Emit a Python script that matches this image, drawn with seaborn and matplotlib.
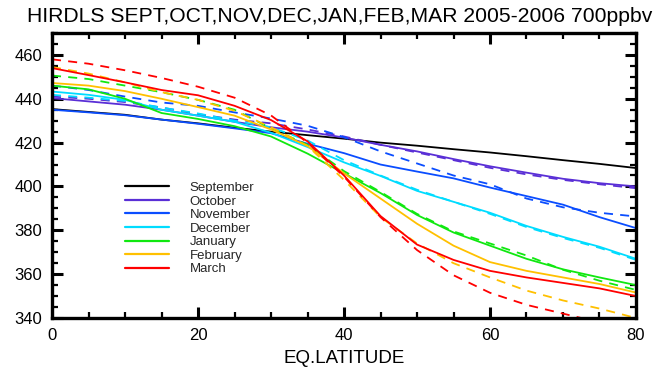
import matplotlib
matplotlib.use("Agg")
import matplotlib.pyplot as plt
import pandas as pd
import seaborn as sns
from matplotlib.ticker import MultipleLocator
from matplotlib.lines import Line2D

# Equivalent latitude grid (degrees)
lat = [0, 5, 10, 15, 20, 25, 30, 35, 40, 45, 50, 55, 60, 65, 70, 75, 80]

months = ["September", "October", "November", "December", "January", "February", "March"]
colors = ["#000000", "#5a2fd6", "#0a4dff", "#00dcff", "#10e810", "#ffc000", "#ff0000"]

# Solid curves
sep_solid = [435.3, 434.0, 432.7, 430.5, 428.8, 426.8, 425.0, 423.4, 421.8, 420.0, 418.6, 417.0, 415.5, 413.8, 412.0, 410.3, 408.4]
oct_solid = [440.3, 438.8, 437.3, 435.0, 432.3, 429.5, 427.0, 425.0, 422.3, 419.0, 416.0, 412.5, 409.2, 406.3, 403.5, 401.5, 400.0]
nov_solid = [435.0, 433.8, 432.5, 430.5, 428.6, 426.5, 424.3, 419.5, 415.2, 410.0, 406.8, 403.7, 399.5, 395.6, 391.7, 386.0, 381.0]
dec_solid = [443.3, 441.8, 439.5, 435.0, 432.3, 429.5, 424.5, 418.0, 411.0, 404.8, 398.0, 393.0, 388.0, 382.0, 377.0, 372.5, 367.0]
jan_solid = [446.0, 444.3, 440.0, 433.5, 430.8, 427.5, 422.8, 415.0, 406.0, 397.0, 387.0, 379.0, 373.0, 367.0, 362.2, 358.5, 355.0]
feb_solid = [447.2, 446.0, 443.5, 440.0, 436.2, 432.3, 426.0, 418.5, 406.0, 394.5, 383.0, 373.0, 365.5, 361.5, 358.5, 355.5, 351.6]
mar_solid = [454.0, 450.8, 447.5, 444.0, 441.6, 436.8, 430.3, 420.6, 405.0, 386.5, 373.5, 366.5, 361.5, 358.5, 356.0, 353.5, 350.0]

# Dashed curves
oct_dash = [441.0, 440.0, 438.5, 436.0, 433.0, 430.5, 428.8, 426.0, 422.8, 419.0, 415.5, 412.0, 408.5, 405.5, 403.0, 401.0, 399.2]
nov_dash = [446.0, 444.0, 441.0, 438.3, 436.8, 433.8, 431.0, 427.7, 422.5, 416.0, 410.5, 405.0, 401.0, 394.5, 390.5, 388.0, 386.3]
dec_dash = [441.8, 440.5, 439.0, 436.0, 433.3, 430.0, 427.0, 421.0, 412.0, 405.0, 398.5, 393.0, 387.5, 381.5, 376.5, 372.0, 366.5]
jan_dash = [450.6, 449.0, 446.0, 443.0, 439.5, 435.0, 426.5, 419.0, 407.0, 397.5, 387.5, 379.5, 374.0, 368.5, 362.0, 357.0, 352.8]
feb_dash = [454.5, 451.5, 447.5, 443.0, 439.5, 434.5, 427.0, 418.5, 403.0, 386.0, 374.0, 365.0, 358.5, 352.5, 348.0, 344.3, 340.0]
mar_dash = [458.0, 456.0, 453.0, 449.5, 445.5, 440.5, 432.4, 420.0, 404.5, 386.0, 371.0, 359.5, 351.5, 346.0, 342.0, 338.0, 334.0]

solid = [sep_solid, oct_solid, nov_solid, dec_solid, jan_solid, feb_solid, mar_solid]
dashed = [None, oct_dash, nov_dash, dec_dash, jan_dash, feb_dash, mar_dash]

sns.set_theme(style="ticks")
plt.rcParams["font.family"] = ["Liberation Sans", "DejaVu Sans"]

fig = plt.figure(figsize=(6.56, 3.68), dpi=100)
ax = fig.add_axes([0.0793, 0.1359, 0.8902, 0.7744])

lw = 1.3
for name, col, s, d in zip(months, colors, solid, dashed):
    sns.lineplot(x=lat, y=s, color=col, lw=lw, ax=ax, label=name, legend=False)
    if d is not None:
        sns.lineplot(x=lat, y=d, color=col, lw=lw, ax=ax, legend=False,
                     linestyle=(0, (5.0, 4.0)))

ax.set_xlim(0, 80)
ax.set_ylim(340, 470)
ax.xaxis.set_major_locator(MultipleLocator(20))
ax.xaxis.set_minor_locator(MultipleLocator(5))
ax.yaxis.set_major_locator(MultipleLocator(20))
ax.yaxis.set_minor_locator(MultipleLocator(5))
ax.set_yticks([340, 360, 380, 400, 420, 440, 460])

for sp in ax.spines.values():
    sp.set_visible(True)
    sp.set_linewidth(2.4)
    sp.set_color("black")

ax.tick_params(which="both", direction="in", top=True, right=True, colors="black",
               labelsize=12, labelcolor="black")
ax.tick_params(which="major", length=8, width=2.2)
ax.tick_params(which="minor", length=4, width=1.6)
ax.tick_params(axis="x", pad=7)
ax.tick_params(axis="y", pad=7)

ax.set_xlabel("EQ.LATITUDE", fontsize=13.5, color="black", labelpad=5)
ax.set_ylabel("")
ax.grid(False)
ax.set_facecolor("white")

fig.text(0.518, 0.955, "HIRDLS SEPT,OCT,NOV,DEC,JAN,FEB,MAR 2005-2006 700ppbv",
         ha="center", va="center", fontsize=15.2, color="black")

handles = [Line2D([], [], color=c, lw=1.6) for c in colors]
ax.legend(handles, months, loc="upper left", bbox_to_anchor=(0.125, 0.478),
          frameon=False, fontsize=9.5, handlelength=3.3, handletextpad=1.6,
          labelspacing=0.1, borderpad=0, borderaxespad=0)

fig.savefig("out.png", dpi=100, facecolor="white")
